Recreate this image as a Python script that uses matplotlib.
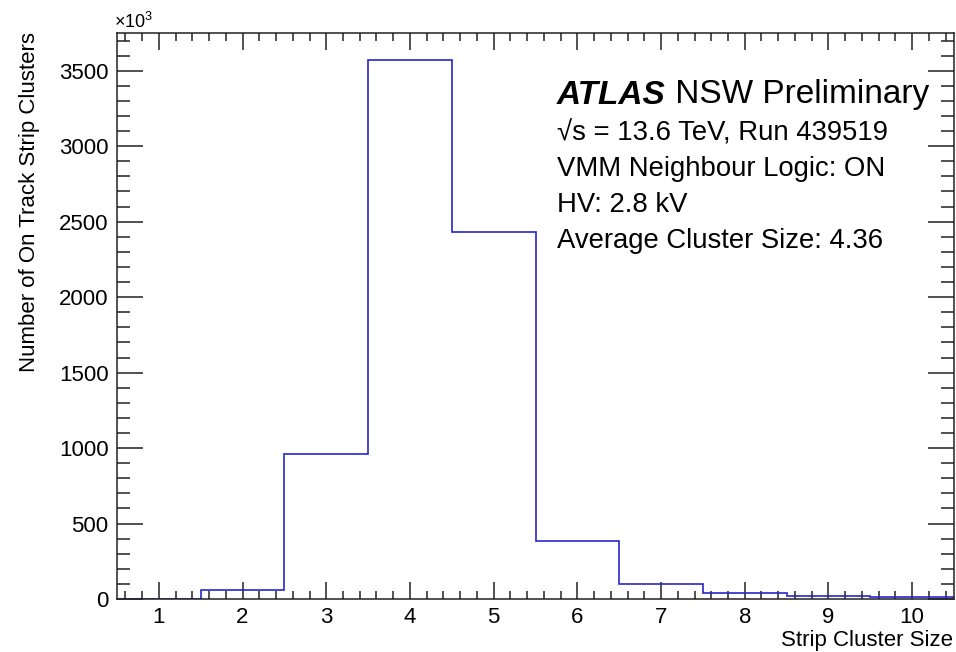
import numpy as np
import matplotlib.pyplot as plt
from matplotlib.ticker import MultipleLocator

plt.rcParams['font.family'] = ['Liberation Sans', 'DejaVu Sans']
plt.rcParams['mathtext.fontset'] = 'custom'
plt.rcParams['mathtext.rm'] = 'Liberation Sans'

# cluster size histogram, counts in units of 10^3
cluster_size = [1, 2, 3, 4, 5, 6, 7, 8, 9, 10]
n_clusters = [0, 58, 963, 3572, 2433, 382, 100, 41, 20, 10]

info_lines = ["\u221as = 13.6 TeV, Run 439519",
              "VMM Neighbour Logic: ON",
              "HV: 2.8 kV",
              "Average Cluster Size: 4.36"]

W, H = 956, 652
fig = plt.figure(figsize=(W / 100., H / 100.), dpi=100)
ax = fig.add_axes([117. / W, 1 - 599. / H, (954. - 117.) / W, (599. - 33.) / H])

edges = np.append(np.array(cluster_size) - 0.5, cluster_size[-1] + 0.5)
ax.stairs(n_clusters, edges, color='#2626cc', lw=1.2, zorder=2)

ax.set_xlim(0.5, 10.5)
ax.set_ylim(0, 3750)
ax.xaxis.set_major_locator(MultipleLocator(1))
ax.xaxis.set_minor_locator(MultipleLocator(0.2))
ax.yaxis.set_major_locator(MultipleLocator(500))
ax.yaxis.set_minor_locator(MultipleLocator(100))

ax.tick_params(axis='both', which='both', direction='in', top=True, right=True,
               width=1.1, color='#222222', labelsize=16)
ax.tick_params(axis='x', which='major', length=12, pad=6)
ax.tick_params(axis='x', which='minor', length=6)
ax.tick_params(axis='y', which='major', length=19, pad=6)
ax.tick_params(axis='y', which='minor', length=9.5)
for sp in ax.spines.values():
    sp.set_linewidth(1.1)
    sp.set_color('#222222')
    sp.set_zorder(3)

# axis titles, ROOT style (right/top aligned)
fig.text(953. / W, 1 - 646. / H, "Strip Cluster Size", ha='right', va='baseline', fontsize=16)
fig.text(19. / W, 1 - 32. / H, "Number of On Track Strip Clusters", rotation=90,
         ha='right', va='top', fontsize=16, rotation_mode='anchor')
fig.text(114. / W, 1 - 28. / H, "\u00d710$^{3}$", ha='left', va='baseline', fontsize=13)

# labels
t = fig.text(557. / W, 1 - 103.5 / H, "ATLAS", fontsize=24, fontweight='bold',
             style='italic', ha='left', va='baseline')
ax.annotate(" NSW Preliminary", xy=(1, 0), xycoords=t, fontsize=24,
            ha='left', va='bottom')
for i, line in enumerate(info_lines):
    fig.text(557. / W, 1 - (140.7 + 35.6 * i) / H, line, fontsize=19.8,
             ha='left', va='baseline')

fig.savefig('out.png', dpi=100)
